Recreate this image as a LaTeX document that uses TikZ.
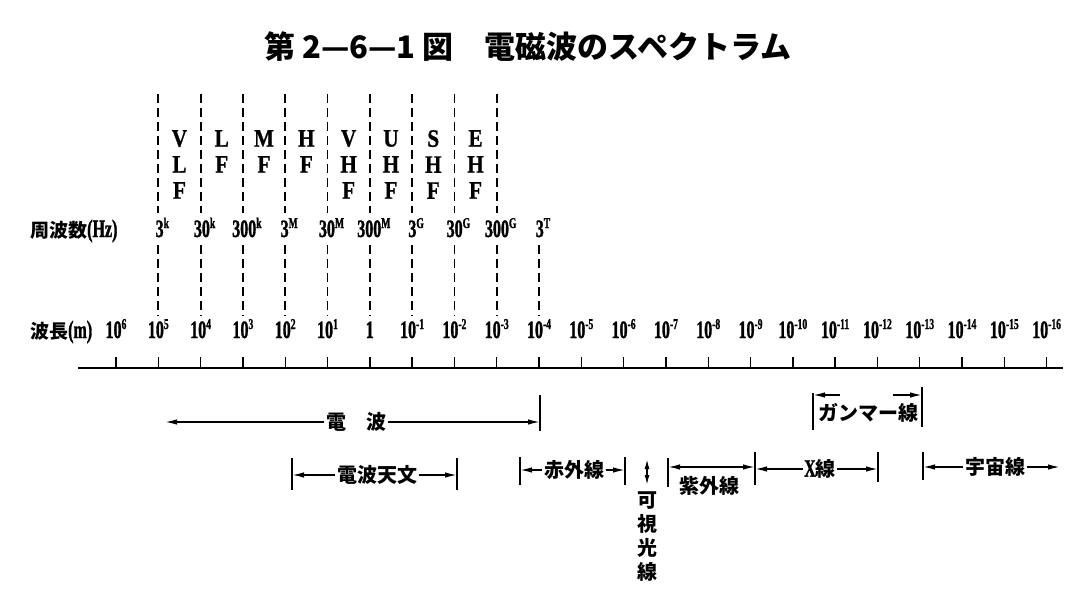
\documentclass[tikz,border=0pt]{standalone}
\usepackage{fontspec}
\usetikzlibrary{arrows.meta}
\newfontfamily\jp{Noto Sans CJK JP}
\newfontfamily\latc[FakeStretch=0.64,FakeBold=1.2]{Liberation Serif}
\newfontfamily\latb[FakeStretch=0.85,FakeBold=0.8]{Liberation Serif}
\newcommand\supx[1]{\raisebox{9pt}{\fontsize{15}{15}\selectfont #1}}
\begin{document}
\begin{tikzpicture}[x=1pt,y=-1pt,
  dash line/.style={line width=1.8pt, dash pattern=on 9pt off 5pt},
  tickline/.style={line width=1.4pt},
  axisline/.style={line width=2.6pt},
  bar/.style={line width=2.2pt},
  rng/.style={line width=1.5pt},
  ahead/.style={-{Latex[length=12pt,width=5.5pt]}},
  bhead/.style={{Latex[length=12pt,width=5.5pt]}-{Latex[length=12pt,width=5.5pt]}},
  band/.style={font=\fontsize{25}{26}\selectfont\latb\bfseries, align=center, anchor=north, inner sep=0pt},
  num/.style={font=\fontsize{25}{25}\selectfont\latc\bfseries, inner sep=0pt, anchor=base},
  jl/.style={font=\fontsize{20}{24}\selectfont\jp\bfseries, inner sep=1.5pt},
]
\useasboundingbox (0,0) rectangle (1089,605);

% title
\node[font=\fontsize{31}{31}\selectfont\jp\bfseries] (title) at (528,47) {第 2—6—1 図　電磁波のスペクトラム};

% axis
\coordinate (axL) at (78,368);
\coordinate (axR) at (1063,368);
\draw[axisline] (axL) -- (axR);

% wavelength ticks and labels
\foreach \k/\lab in {0/10\supx{6},1/10\supx{5},2/10\supx{4},3/10\supx{3},4/10\supx{2},5/10\supx{1},6/1,
  7/10\supx{-1},8/10\supx{-2},9/10\supx{-3},10/10\supx{-4},11/10\supx{-5},12/10\supx{-6},13/10\supx{-7},
  14/10\supx{-8},15/10\supx{-9},16/10\supx{-10},17/10\supx{-11},18/10\supx{-12},19/10\supx{-13},
  20/10\supx{-14},21/10\supx{-15},22/10\supx{-16}}{
  \pgfmathsetmacro\xx{116+42.3*\k}
  \node[num] (w\k) at (\xx,338) {\lab};
  \coordinate (t\k) at (\xx,368);
  \coordinate (tt\k) at (\xx,357);
  \draw[tickline] (t\k) -- (tt\k);
}

% dashed lines
\foreach \k in {1,...,9}{
  \pgfmathsetmacro\xx{116+42.3*\k}
  \coordinate (da\k) at (\xx,94);
  \coordinate (db\k) at (\xx,213);
  \draw[dash line] (da\k) -- (db\k);
}
\foreach \k in {1,...,10}{
  \pgfmathsetmacro\xx{116+42.3*\k}
  \coordinate (dc\k) at (\xx,245);
  \coordinate (dd\k) at (\xx,316);
  \draw[dash line] (dc\k) -- (dd\k);
}

% frequency labels
\foreach \k/\lab in {1/3\supx{k},2/30\supx{k},3/300\supx{k},4/3\supx{M},5/30\supx{M},6/300\supx{M},
  7/3\supx{G},8/30\supx{G},9/300\supx{G},10/3\supx{T}}{
  \pgfmathsetmacro\xx{116+42.3*\k+4}
  \node[num] (f\k) at (\xx,237) {\lab};
}

% band names
\node[band] (vlf) at ({116+42.3*1.5},130) {V\\L\\F};
\node[band] (lf)  at ({116+42.3*2.5},130) {L\\F};
\node[band] (mf)  at ({116+42.3*3.5},130) {M\\F};
\node[band] (hf)  at ({116+42.3*4.5},130) {H\\F};
\node[band] (vhf) at ({116+42.3*5.5},130) {V\\H\\F};
\node[band] (uhf) at ({116+42.3*6.5},130) {U\\H\\F};
\node[band] (shf) at ({116+42.3*7.5},130) {S\\H\\F};
\node[band] (ehf) at ({116+42.3*8.5},130) {E\\H\\F};

% row titles
\node[anchor=base west, inner sep=0pt] (fq) at (30,237)
  {{\jp\bfseries\fontsize{19}{19}\selectfont 周波数}{\latc\bfseries\fontsize{25}{25}\selectfont (Hz)}};
\node[anchor=base west, inner sep=0pt] (wl) at (30,338)
  {{\jp\bfseries\fontsize{19}{19}\selectfont 波長}{\latc\bfseries\fontsize{25}{25}\selectfont (m)}};

% 電波
\node[jl] (dp) at (356,422) {電　波};
\coordinate (dpL) at (165,422);
\coordinate (dpR) at (540,422);
\coordinate (dpRt) at (540,395);
\coordinate (dpRb) at (540,431);
\draw[rng,ahead] (dp.west) -- (dpL);
\draw[rng,ahead] (dp.east) -- (dpR);
\draw[bar] (dpRt) -- (dpRb);

% 電波天文
\node[jl] (rt) at (377,475) {電波天文};
\coordinate (rtL) at (292,475);
\coordinate (rtR) at (457,475);
\coordinate (rtLt) at (292,458); \coordinate (rtLb) at (292,490);
\coordinate (rtRt) at (457,458); \coordinate (rtRb) at (457,490);
\draw[rng,ahead] (rt.west) -- (rtL);
\draw[rng,ahead] (rt.east) -- (rtR);
\draw[bar] (rtLt) -- (rtLb);
\draw[bar] (rtRt) -- (rtRb);

% 赤外線
\node[jl] (ir) at (574,470) {赤外線};
\coordinate (irL) at (520,470);
\coordinate (irR) at (625,470);
\coordinate (irLt) at (520,457); \coordinate (irLb) at (520,485);
\coordinate (irRt) at (625,457); \coordinate (irRb) at (625,485);
\draw[rng,ahead] (ir.west) -- (irL);
\draw[rng,ahead] (ir.east) -- (irR);
\draw[bar] (irLt) -- (irLb);
\draw[bar] (irRt) -- (irRb);

% 可視光線
\coordinate (vsT) at (647,459);
\coordinate (vsB) at (647,485);
\draw[rng,{Latex[length=10pt,width=5pt]}-{Latex[length=10pt,width=5pt]}] (vsT) -- (vsB);
\node[jl, anchor=north, align=center, inner sep=0pt] (vs) at (647,491) {可\\視\\光\\線};

% 紫外線
\coordinate (uvL) at (668,467);
\coordinate (uvR) at (755,467);
\coordinate (uvLt) at (668,458); \coordinate (uvLb) at (668,487);
\coordinate (uvRt) at (755,452); \coordinate (uvRb) at (755,485);
\draw[rng,bhead] (uvL) -- (uvR);
\draw[bar] (uvLt) -- (uvLb);
\draw[bar] (uvRt) -- (uvRb);
\node[jl] (uv) at (709,486) {紫外線};

% X線
\node[jl] (xr) at (820,469) {{\latc\bfseries\fontsize{25}{25}\selectfont X}線};
\coordinate (xrL) at (755,469);
\coordinate (xrR) at (878,469);
\coordinate (xrRt) at (878,452); \coordinate (xrRb) at (878,482);
\draw[rng,ahead] (xr.west) -- (xrL);
\draw[rng,ahead] (xr.east) -- (xrR);
\draw[bar] (xrRt) -- (xrRb);

% ガンマー線
\node[jl] (gm) at (868,413) {ガンマー線};
\coordinate (gmL) at (813,395);
\coordinate (gmLi) at (840,395);
\coordinate (gmR) at (922,395);
\coordinate (gmRi) at (893,395);
\coordinate (gmLt) at (813,393); \coordinate (gmLb) at (813,430);
\coordinate (gmRt) at (922,387); \coordinate (gmRb) at (922,427);
\draw[rng,ahead] (gmLi) -- (gmL);
\draw[rng,ahead] (gmRi) -- (gmR);
\draw[bar] (gmLt) -- (gmLb);
\draw[bar] (gmRt) -- (gmRb);

% 宇宙線
\node[jl] (cr) at (995,467) {宇宙線};
\coordinate (crL) at (923,467);
\coordinate (crR) at (1060,467);
\coordinate (crLt) at (923,452); \coordinate (crLb) at (923,480);
\draw[rng,ahead] (cr.west) -- (crL);
\draw[rng,ahead] (cr.east) -- (crR);
\draw[bar] (crLt) -- (crLb);
\end{tikzpicture}
\end{document}
